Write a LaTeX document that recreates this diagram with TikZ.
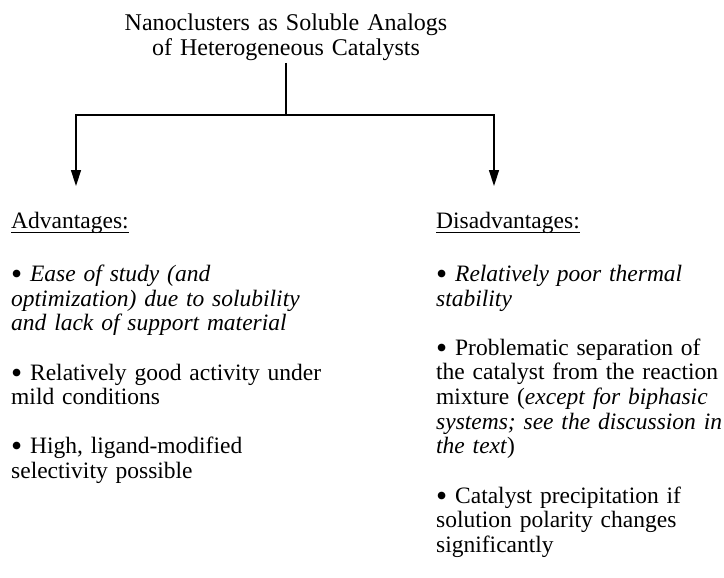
\documentclass[tikz,border=0pt]{standalone}
\usepackage{fontspec}
\usepackage{graphicx}
\setmainfont{Liberation Serif}
\usetikzlibrary{arrows.meta}
\newcommand\bigbul{\smash{\raisebox{-0.13em}{\scalebox{1.35}{\textbullet}}}}
\begin{document}
\begin{tikzpicture}[x=1pt,y=-1pt,
  txt/.style={font=\fontsize{23.5}{24.6}\selectfont, inner sep=0pt, align=left, text width=380pt, anchor=base west},
  head/.style={font=\fontsize{23.5}{24.6}\selectfont, inner sep=0pt, anchor=base west},
  ttl/.style={font=\fontsize{24}{25}\selectfont, inner sep=0pt, align=center, text width=420pt, anchor=base},
  conn/.style={line width=1.5pt},
  uline/.style={line width=1.1pt},
  arr/.style={conn, -{Triangle[length=16pt,width=10pt]}}]
\useasboundingbox (0,0) rectangle (724,578);
\node[ttl] (title) at (286,30.5) {Nanoclusters as Soluble Analogs\\of Heterogeneous Catalysts};
\coordinate (top) at (286,63);
\coordinate (j) at (286,115);
\coordinate (lh) at (76,186);
\coordinate (rh) at (494,186);
\draw[conn] (top) -- (j);
\draw[arr] (j) -| (lh);
\draw[arr] (j) -| (rh);
\node[head] (adv) at (11,228) {Advantages:};
\draw[uline] ([yshift=-4.5pt]adv.base west) -- ([yshift=-4.5pt]adv.base east);
\node[txt] (a1) at (11,281.5) {\bigbul\ \textit{Ease of study (and}\\\textit{optimization) due to solubility}\\\textit{and lack of support material}};
\node[txt] (a2) at (11,380) {\bigbul\ Relatively good activity under\\mild conditions};
\node[txt] (a3) at (11,453.8) {\bigbul\ High, ligand-modified\\selectivity possible};
\node[head] (dis) at (436,228) {Disadvantages:};
\draw[uline] ([yshift=-4.5pt]dis.base west) -- ([yshift=-4.5pt]dis.base east);
\node[txt] (d1) at (436,281.5) {\bigbul\ \textit{Relatively poor thermal}\\\textit{stability}};
\node[txt] (d2) at (436,355.3) {\bigbul\ Problematic separation of\\the catalyst from the reaction\\mixture (\textit{except for biphasic}\\\textit{systems; see the discussion in}\\\textit{the text})};
\node[txt] (d3) at (436,503) {\bigbul\ Catalyst precipitation if\\solution polarity changes\\significantly};
\end{tikzpicture}
\end{document}
